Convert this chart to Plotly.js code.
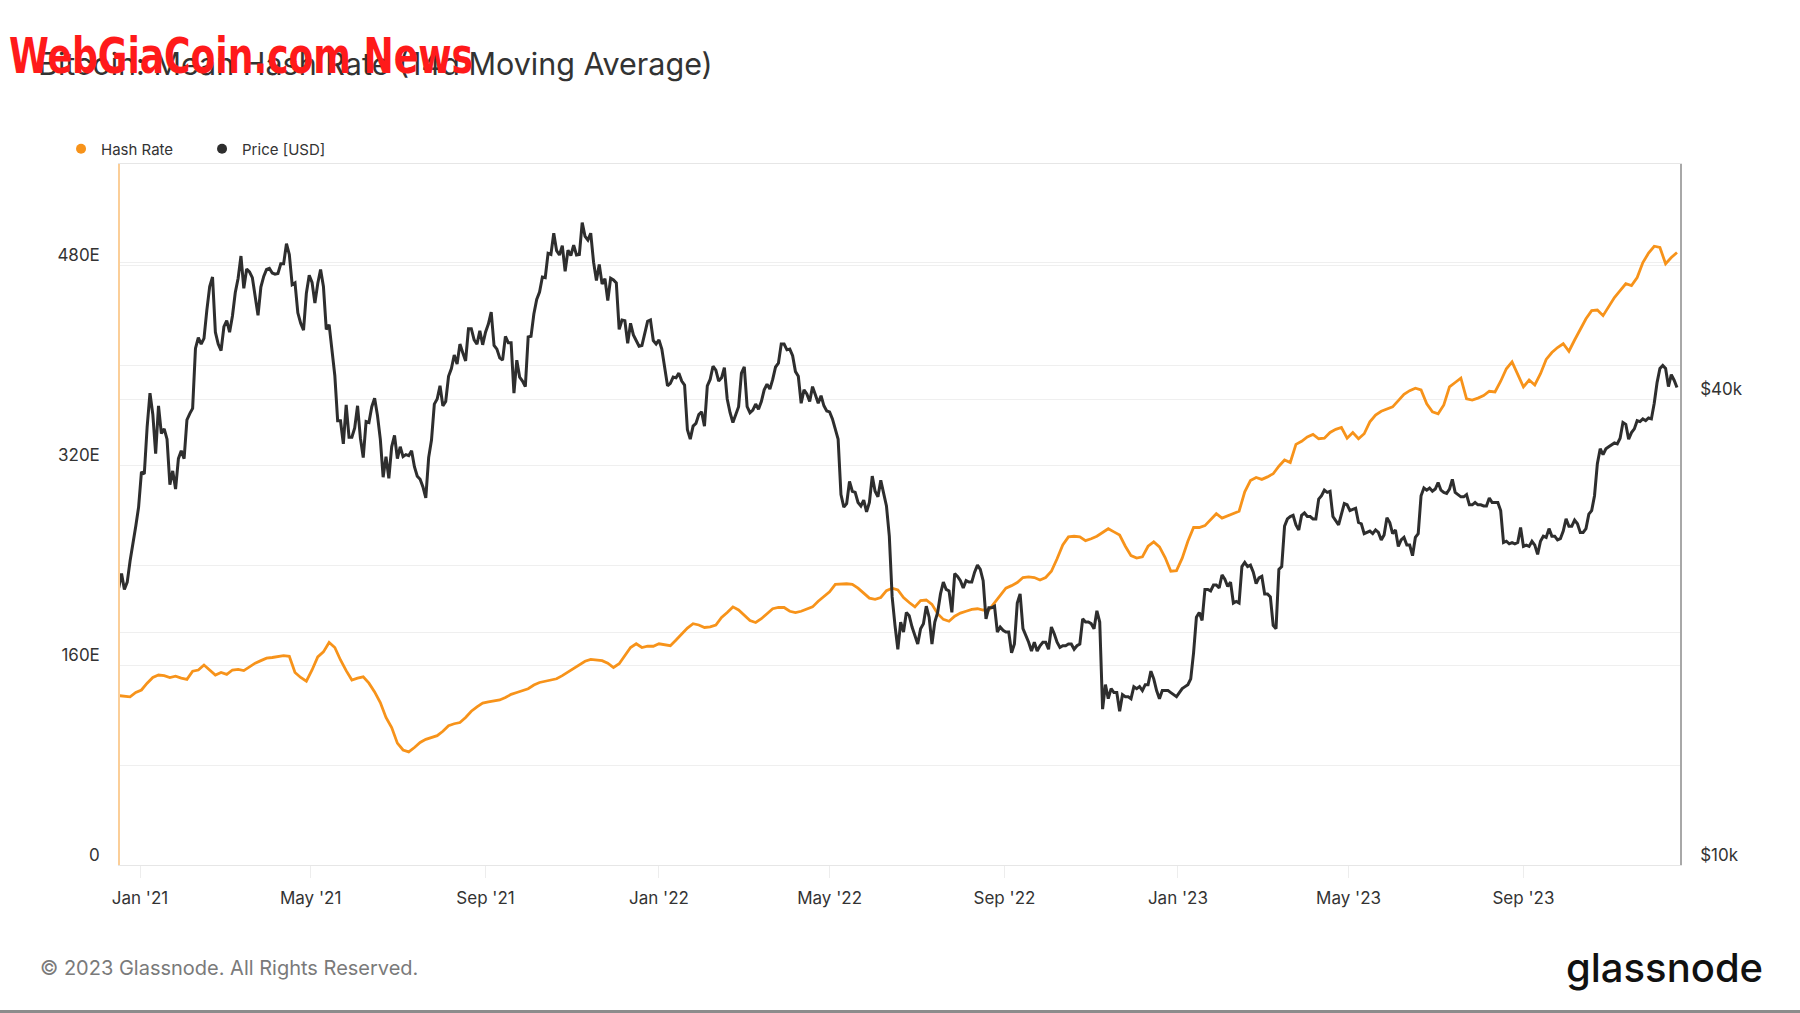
<!DOCTYPE html>
<html>
<head>
<meta charset="utf-8">
<script src="https://cdn.plot.ly/plotly-3.0.1.min.js"></script>
<style>
  html, body { margin: 0; padding: 0; background: #ffffff; width: 1800px; height: 1013px; overflow: hidden; }
  #chart { width: 1800px; height: 1013px; }
  #bottomRule { position: absolute; left: 0; top: 1010px; width: 1800px; height: 3px; background: #8c8c8c; }
</style>
</head>
<body>
<div id="chart"></div>
<div id="bottomRule"></div>
<script>
// ---------------- DATA ----------------
// X axis ticks
const xTickDates  = ['2021-01-01','2021-05-01','2021-09-01','2022-01-01','2022-05-01','2022-09-01','2023-01-01','2023-05-01','2023-09-01'];
const xTickLabels = ["Jan '21","May '21","Sep '21","Jan '22","May '22","Sep '22","Jan '23","May '23","Sep '23"];

// Left axis (hash rate, EH/s) grid / labels
const hashTickVals = [0, 80, 160, 240, 320, 400, 480, 560];
const hashTickText = ['0', '', '160E', '', '320E', '', '480E', ''];

// Right axis (price, thousand USD, log) grid / labels
const priceTickVals = [10, 20, 40, 60];
const priceTickText = ['$10k', '', '$40k', ''];

// Price [USD], thousands, every 2 days starting 2020-12-17
const priceStart = '2020-12-17';
const priceStepDays = 2;
const p2020_12 = [22.8, 23.8, 22.7, 23.2, 24.7, 26.2, 27.4, 29.0];
const p2021_01 = [32.2, 32.0, 36.8, 40.7, 38.2, 34.0, 39.2, 36.1, 36.6, 35.5, 31.0, 32.3, 30.6, 33.5, 34.3];
const p2021_02 = [33.5, 37.6, 38.3, 38.9, 46.5, 48.0, 47.1, 47.9, 52.1, 55.9, 57.5, 48.8, 47.1, 46.2];
const p2021_03 = [49.6, 50.5, 48.8, 51.2, 54.9, 57.3, 61.2, 55.6, 58.9, 58.4, 57.4, 54.3, 51.3, 55.8, 57.6, 58.8];
const p2021_04 = [59.0, 58.2, 58.0, 58.1, 59.8, 59.8, 63.5, 61.5, 56.2, 56.5, 51.7, 50.1, 49.1, 54.8, 57.8];
const p2021_05 = [56.6, 53.2, 56.4, 58.8, 55.9, 49.2, 49.9, 46.4, 42.9, 37.5, 37.5, 35.0, 39.3, 35.7, 35.7];
const p2021_06 = [36.7, 39.2, 35.6, 33.6, 37.4, 37.3, 39.1, 40.1, 38.1, 35.5, 31.7, 33.7, 31.6, 34.7, 35.9];
const p2021_07 = [33.5, 34.7, 33.7, 33.9, 33.8, 34.3, 32.7, 31.8, 31.5, 30.8, 29.8, 33.6, 35.4, 39.4, 40.0, 41.6];
const p2021_08 = [39.2, 39.7, 42.8, 43.8, 45.6, 44.4, 47.1, 45.9, 44.8, 49.3, 49.3, 47.7, 47.1, 49.0, 47.0];
const p2021_09 = [48.8, 50.0, 51.8, 46.9, 46.4, 45.2, 44.9, 48.2, 47.3, 47.3, 40.7, 44.9, 42.7, 42.2, 41.5];
const p2021_10 = [48.1, 48.2, 51.5, 53.8, 55.0, 57.5, 57.4, 61.7, 61.5, 65.5, 62.2, 61.4, 63.1, 58.5, 62.3, 61.3];
const p2021_11 = [63.2, 61.4, 61.5, 67.6, 64.9, 64.2, 65.5, 60.1, 56.9, 59.7, 56.3, 57.2, 53.6, 57.3, 57.0];
const p2021_12 = [56.5, 49.2, 50.6, 50.5, 47.2, 50.1, 48.4, 47.6, 46.8, 46.9, 48.6, 50.4, 50.6, 47.6, 47.1];
const p2022_01 = [47.7, 46.4, 43.6, 41.6, 41.9, 42.7, 42.6, 43.2, 42.2, 41.7, 36.5, 35.5, 36.9, 37.2, 38.2, 38.5];
const p2022_02 = [36.9, 41.6, 42.4, 44.1, 43.6, 42.2, 42.6, 43.9, 40.0, 38.4, 37.3, 38.3, 39.1, 43.2];
const p2022_03 = [44.0, 39.1, 38.4, 38.7, 39.4, 38.8, 39.7, 41.1, 41.8, 41.2, 42.4, 44.0, 44.5, 47.1, 47.1];
const p2022_04 = [46.3, 46.4, 45.5, 43.4, 42.8, 39.5, 41.1, 40.6, 39.7, 41.5, 40.5, 39.5, 40.4, 39.2, 38.6];
const p2022_05 = [38.5, 37.7, 36.6, 35.5, 30.1, 29.0, 29.3, 31.3, 30.4, 30.3, 29.4, 29.1, 29.6, 28.6, 29.4, 31.8];
const p2022_06 = [30.4, 29.9, 31.4, 30.2, 29.1, 26.6, 22.2, 20.4, 19.0, 20.6, 20.0, 21.2, 21.0, 20.3, 19.8];
const p2022_07 = [19.3, 20.2, 20.5, 21.6, 20.9, 19.3, 20.6, 21.2, 22.4, 23.2, 22.7, 22.6, 21.2, 23.8, 23.6];
const p2022_08 = [23.3, 22.8, 23.3, 23.2, 23.2, 23.9, 24.4, 24.1, 23.3, 20.8, 21.5, 21.5, 21.6, 20.0, 20.3, 20.1];
const p2022_09 = [20.0, 20.0, 18.8, 19.3, 21.8, 22.4, 20.2, 19.8, 19.4, 18.9, 19.4, 18.9, 19.2, 19.4, 19.4];
const p2022_10 = [19.0, 20.3, 19.9, 19.4, 19.1, 19.2, 19.2, 19.3, 19.3, 19.0, 19.2, 19.3, 20.8, 20.6, 20.6];
const p2022_11 = [20.5, 20.2, 21.3, 20.6, 15.9, 17.1, 16.4, 16.9, 16.7, 16.7, 15.8, 16.6, 16.5, 16.5, 16.4];
const p2022_12 = [17.0, 16.9, 17.0, 16.8, 17.1, 17.1, 17.8, 17.4, 16.8, 16.4, 16.8, 16.8, 16.8, 16.7, 16.6, 16.5];
const p2023_01 = [16.7, 16.9, 17.0, 17.1, 17.4, 18.8, 20.9, 21.2, 20.7, 22.7, 22.7, 22.6, 23.0, 23.0, 22.8];
const p2023_02 = [23.7, 23.4, 22.9, 23.2, 21.8, 21.9, 21.8, 24.3, 24.6, 24.3, 24.4, 23.9, 23.1, 23.5];
const p2023_03 = [23.6, 22.4, 22.4, 22.2, 20.4, 20.2, 24.1, 24.3, 27.4, 28.0, 28.2, 28.3, 27.5, 27.1, 28.3, 28.5];
const p2023_04 = [28.2, 28.2, 28.0, 28.0, 29.7, 30.0, 30.5, 30.3, 30.4, 28.2, 27.8, 27.5, 28.4, 29.3, 29.2];
const p2023_05 = [28.7, 28.8, 28.9, 27.7, 27.6, 26.8, 26.9, 27.0, 26.8, 27.1, 26.9, 26.3, 26.7, 28.1, 27.7];
const p2023_06 = [26.8, 27.1, 25.8, 26.3, 26.5, 25.9, 25.9, 25.1, 26.5, 26.8, 30.0, 30.7, 30.5, 30.7, 30.4];
const p2023_07 = [30.6, 31.2, 30.5, 30.3, 30.2, 30.6, 31.5, 30.3, 30.1, 29.9, 29.9, 30.1, 29.2, 29.2, 29.4, 29.2];
const p2023_08 = [29.2, 29.1, 29.1, 29.8, 29.4, 29.4, 29.4, 28.7, 26.1, 26.2, 26.0, 26.1, 26.0, 26.1, 27.3];
const p2023_09 = [25.8, 25.9, 25.8, 26.2, 25.9, 25.2, 26.2, 26.6, 26.5, 27.2, 26.6, 26.6, 26.3, 26.4, 27.0];
const p2023_10 = [28.0, 27.4, 27.4, 27.9, 27.6, 26.9, 26.9, 27.2, 28.4, 28.7, 30.0, 33.0, 34.5, 33.9, 34.5, 34.7];
const p2023_11 = [34.9, 35.1, 35.0, 35.6, 37.3, 37.1, 35.5, 36.2, 36.6, 37.5, 37.4, 37.7, 37.5, 37.8, 37.7];
const p2023_12 = [39.5, 42.0, 43.8, 44.2, 43.8, 41.5, 43.0, 42.3, 41.4];

// Mean hash rate (14d MA), EH/s, every 4 days starting 2020-12-17
const hashStart = '2020-12-17';
const hashStepDays = 4;
const hashRateEH = [
  135.5, 135, 134.5, 138, 140, 145.5, 150, 152, 151.5, 150,
  151, 149.5, 148.5, 155, 156, 160, 156, 152, 154, 152.5,
  156, 156.5, 155.5, 158.5, 161.5, 163.5, 165.5, 166, 166.5, 167.5,
  167, 154, 150, 147, 156, 166.5, 170.5, 178, 174, 164,
  155.5, 148, 149.5, 150.5, 145.5, 138.5, 130, 118, 110, 97.5,
  92, 90.5, 94, 98, 100.5, 102, 103.5, 107, 111.5, 113,
  114, 118, 123, 126.5, 129.5, 130.5, 131, 132, 134, 136.5,
  138, 139.5, 141, 144, 146, 147, 148, 149, 151.5, 154.5,
  157, 160.5, 163, 164.5, 164, 163.5, 161.5, 158, 161, 168,
  174, 177, 174, 175, 175, 177, 176.5, 175.5, 180, 184.5,
  189.5, 193, 192, 190, 190.5, 192, 198, 202, 206.5, 204,
  199.5, 195.5, 194, 197, 201, 205, 206, 206, 203, 202,
  203, 205, 206.5, 211, 215, 218.5, 224.5, 225, 225, 224.5,
  221.5, 217.5, 213.5, 212.5, 214, 219.5, 221.5, 220, 214, 210,
  206.5, 211.5, 212, 208.5, 201, 196.5, 195, 199, 201.5, 203,
  204.5, 205, 204, 204, 210, 216.5, 221.5, 223.5, 226, 230,
  230.5, 230, 228, 230, 235, 245, 256, 262.5, 263, 262.5,
  259.5, 261, 263, 266, 269, 266.5, 264, 255, 247.5, 245.5,
  246.5, 255, 258.5, 254.5, 246, 235, 235.5, 245.5, 259, 270,
  270, 271.5, 276.5, 281, 277.5, 279.5, 281.5, 283, 298.5, 307.5,
  310, 308.5, 310.5, 313, 319, 324, 322, 336.5, 339, 342.5,
  344.5, 341, 341.5, 346, 348.5, 350, 341.5, 346, 341, 345,
  354.5, 360, 363, 364.5, 366.5, 371.5, 376.5, 379.5, 381.5, 380,
  369, 362.5, 361, 368, 382.5, 386, 389.5, 373, 372, 373.5,
  375.5, 379, 378.5, 387, 397, 402.5, 392, 382.5, 388, 384,
  393, 404.5, 410, 414, 417, 411, 420, 429, 437, 443.5,
  444, 439.5, 447, 454, 459.5, 465, 463.5, 470, 482, 489.5,
  495, 494, 481, 486, 490
];

// ---------------- BUILD ----------------
const priceKUSD = [].concat(
  p2020_12, p2021_01, p2021_02, p2021_03, p2021_04, p2021_05, p2021_06, p2021_07, p2021_08,
  p2021_09, p2021_10, p2021_11, p2021_12, p2022_01, p2022_02, p2022_03, p2022_04, p2022_05,
  p2022_06, p2022_07, p2022_08, p2022_09, p2022_10, p2022_11, p2022_12, p2023_01, p2023_02,
  p2023_03, p2023_04, p2023_05, p2023_06, p2023_07, p2023_08, p2023_09, p2023_10, p2023_11, p2023_12
);

function gridDates(startISO, stepDays, count) {
  const t0 = Date.parse(startISO + 'T00:00:00Z');
  const out = [];
  for (let i = 0; i < count; i++) {
    out.push(new Date(t0 + i * stepDays * 86400000).toISOString().slice(0, 10));
  }
  return out;
}

const priceDates = gridDates(priceStart, priceStepDays, priceKUSD.length);
const hashDates = gridDates(hashStart, hashStepDays, hashRateEH.length);

const FONT = 'Inter, "Noto Sans", "DejaVu Sans", sans-serif';
const ORANGE = '#f7931a';
const DARK = '#2e2e2e';

const traces = [
  {
    x: hashDates, y: hashRateEH, name: 'Hash Rate', type: 'scatter', mode: 'lines',
    line: { color: ORANGE, width: 2.8 }, yaxis: 'y', showlegend: false,
    hovertemplate: '%{y:.1f} EH/s<extra>Hash Rate</extra>'
  },
  {
    x: priceDates, y: priceKUSD, name: 'Price [USD]', type: 'scatter', mode: 'lines',
    line: { color: DARK, width: 3 }, yaxis: 'y2', showlegend: false,
    hovertemplate: '$%{y:.1f}k<extra>Price</extra>'
  },
  // legend entries (dot markers)
  { x: [null], y: [null], name: 'Hash Rate', type: 'scatter', mode: 'markers',
    marker: { color: ORANGE, size: 10 }, yaxis: 'y', showlegend: true, hoverinfo: 'skip' },
  { x: [null], y: [null], name: 'Price [USD]', type: 'scatter', mode: 'markers',
    marker: { color: DARK, size: 10 }, yaxis: 'y', showlegend: true, hoverinfo: 'skip' }
];

const layout = {
  width: 1800, height: 1013,
  paper_bgcolor: '#ffffff', plot_bgcolor: '#ffffff',
  margin: { l: 120, r: 120, t: 164, b: 148, pad: 0 },
  font: { family: FONT, color: '#333333', size: 17 },
  title: {
    text: 'Bitcoin: Mean Hash Rate (14d Moving Average)',
    xref: 'container', yref: 'container', x: 0.0211, y: 0.9368,
    xanchor: 'left', yanchor: 'middle',
    font: { family: FONT, size: 30.5, color: '#333333' }
  },
  showlegend: true,
  legend: {
    orientation: 'h', x: -0.0378, y: 1.0214, xanchor: 'left', yanchor: 'middle',
    font: { family: FONT, size: 15, color: '#333333' },
    bgcolor: 'rgba(0,0,0,0)', borderwidth: 0, traceorder: 'normal',
    entrywidth: 96, entrywidthmode: 'pixels'
  },
  xaxis: {
    type: 'date',
    range: ['2020-12-17 22:00', '2023-12-20 03:00'],
    tickmode: 'array', tickvals: xTickDates, ticktext: xTickLabels,
    showgrid: false, zeroline: false,
    showline: true, linecolor: '#e6e6e6', linewidth: 1, mirror: true,
    ticks: 'outside', ticklen: 12, tickcolor: '#ededed', tickwidth: 1,
    ticklabelstandoff: 6,
    tickfont: { family: FONT, size: 17, color: '#333333' }
  },
  yaxis: {
    range: [0, 560.8],
    tickmode: 'array', tickvals: hashTickVals, ticktext: hashTickText,
    showgrid: true, gridcolor: '#efefef', gridwidth: 1, zeroline: false,
    showline: true, linecolor: 'rgba(247,147,26,0.45)', linewidth: 1.5,
    ticks: '', ticklabelstandoff: 15, ticklabelshift: -10,
    tickfont: { family: FONT, size: 17, color: '#333333' }
  },
  yaxis2: {
    type: 'log', range: [1, 1.9057], overlaying: 'y', side: 'right',
    tickmode: 'array', tickvals: priceTickVals, ticktext: priceTickText,
    showgrid: true, gridcolor: '#efefef', gridwidth: 1, zeroline: false,
    showline: true, linecolor: '#a8a8a8', linewidth: 1.5,
    ticks: '', ticklabelstandoff: 15, ticklabelshift: -10,
    tickfont: { family: FONT, size: 17, color: '#333333' }
  },
  annotations: [
    {
      text: 'WebGiaCoin.com News', xref: 'paper', yref: 'paper',
      x: -0.0712, y: 1.154, xanchor: 'left', yanchor: 'middle', showarrow: false,
      font: { family: '"Liberation Sans Narrow", "DejaVu Sans Condensed", "Liberation Sans", sans-serif', size: 50, color: '#ff1a1a', weight: 'bold' }
    },
    {
      text: '© 2023 Glassnode. All Rights Reserved.', xref: 'paper', yref: 'paper',
      x: -0.0526, y: -0.1469, xanchor: 'left', yanchor: 'middle', showarrow: false,
      font: { family: FONT, size: 20, color: '#7a7a7a' }
    },
    {
      text: 'glassnode', xref: 'paper', yref: 'paper',
      x: 1.0545, y: -0.1465, xanchor: 'right', yanchor: 'middle', showarrow: false,
      font: { family: FONT, size: 40, color: '#111111', weight: 500 }
    }
  ]
};

Plotly.newPlot('chart', traces, layout, { displayModeBar: false, responsive: false }).then(function () {
  // condense the red watermark to the narrow width seen in the reference
  const ann = document.querySelector('#chart .annotation[data-index="0"] text.annotation-text');
  if (ann) {
    ann.setAttribute('textLength', '464');
    ann.setAttribute('lengthAdjust', 'spacingAndGlyphs');
    const r = ann.getBoundingClientRect();
    const dx = 9 - r.left;
    ann.setAttribute('transform', 'translate(' + dx.toFixed(1) + ',0)');
  }
});
</script>
</body>
</html>
